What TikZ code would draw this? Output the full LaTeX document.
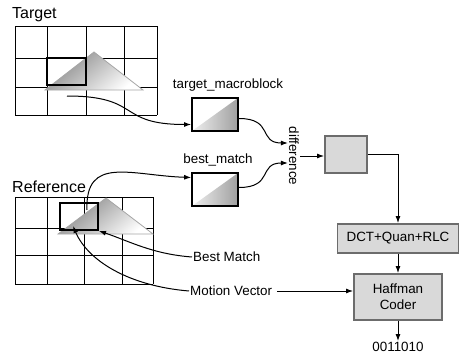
\documentclass[tikz,border=0pt]{standalone}
\usepackage{fontspec}
\setmainfont{Liberation Sans}
\usetikzlibrary{arrows.meta,positioning,calc}

\begin{document}
\begin{tikzpicture}[x=1pt, y=-1pt,
  lbl/.style={font=\fontsize{13.4}{16}\selectfont, inner sep=1pt},
  ttl/.style={font=\fontsize{16}{18}\selectfont, anchor=west, inner sep=0pt},
  gridline/.style={line width=1pt},
  tri/.style={draw=gray!70, line width=0.8pt, top color=gray!95, bottom color=white, shading angle=40},
  blk/.style={draw, line width=2pt, inner sep=0pt},
  mb/.style={draw, line width=1.8pt, minimum width=46pt, minimum height=33pt, inner sep=0pt,
    path picture={\shade[left color=gray!12, right color=gray!75]
      (path picture bounding box.south west) -- (path picture bounding box.north east)
      -- (path picture bounding box.south east) -- cycle;}},
  proc/.style={draw=gray!85!black, fill=gray!30, line width=1.8pt, inner sep=0pt, align=center,
    font=\fontsize{13.4}{16}\selectfont},
  arr/.style={-{Latex[length=7pt, width=5pt]}, line width=1pt}]
\useasboundingbox (0,0) rectangle (464,356);

% current frame
\node[ttl] (tgtttl) at (12,15) {Target};
\foreach \x in {15,47,86,124,157} \draw[gridline] (\x,26) -- (\x,115);
\foreach \y in {26,58,87,115} \draw[gridline] (15,\y) -- (157,\y);
\path[tri] (45,90) -- (94,52) -- (143,90) -- cycle;
\node[blk, minimum width=39pt, minimum height=27pt] (tblk) at (66.5,71.5) {};
\coordinate (tsrc) at (67,96);

% reference frame
\node[ttl] (refttl) at (12,187) {Reference};
\foreach \x in {15,47,84,122,153} \draw[gridline] (\x,197) -- (\x,284);
\foreach \y in {197,228,255,284} \draw[gridline] (15,\y) -- (153,\y);
\path[tri] (58,234) -- (106,198) -- (153,234) -- cycle;
\node[blk, minimum width=38pt, minimum height=27pt] (rblk) at (79,216.5) {};
\coordinate (rsrc) at (87,210);
\coordinate (mvtip) at (73,226);

% macroblocks and difference
\node[mb] (tm) at (215,114.5) {};
\node[lbl] (tmlbl) at (228,85) {target\_macroblock};
\node[mb] (bm) at (215,189.5) {};
\node[lbl] (bmlbl) at (218,160) {best\_match};
\node[lbl, rotate=-90] (diff) at (294,156) {difference};

\draw[arr] (tsrc) .. controls +(75,0) and +(-75,0) .. ([yshift=-10pt]tm.west);
\draw[arr] (rsrc) .. controls +(-2,-55) and +(-60,-2) .. ([yshift=12pt]bm.west);
\draw[arr] ([yshift=-4pt]tm.east) .. controls +(35,0) and +(-30,0) .. ([yshift=13pt]diff.south);
\draw[arr] ([yshift=2pt]bm.east) .. controls +(35,0) and +(-30,0) .. ([yshift=-7pt]diff.south);

% coding chain
\node[proc, minimum width=42pt, minimum height=37pt] (gbox) at (346,154.5) {};
\node[proc, minimum width=121pt, minimum height=29pt] (dct) at (398,238.5) {DCT+Quan+RLC};
\node[proc, minimum width=88pt, minimum height=46pt] (huff) at (398,297) {Haffman\\Coder};
\node[lbl] (out) at (398,347) {0011010};

\draw[arr] (diff.north) -- (diff.north -| gbox.west);
\draw[arr] (gbox.east) -| (dct.north);
\foreach \a/\b in {dct/huff,huff/out} \draw[arr] (\a) -- (\b);

% annotations
\node[lbl, anchor=west] (bmt) at (192,257) {Best Match};
\node[lbl, anchor=west] (mv) at (189,291) {Motion Vector};
\draw[arr] (bmt.west) .. controls +(-40,-3) and +(30,10) .. (rblk.south east);
\draw[arr] (mv.west) .. controls +(-60,-5) and +(15,35) .. (mvtip);
\draw[arr] ([xshift=4pt]mv.east) -- (mv.east -| huff.west);
\end{tikzpicture}
\end{document}
